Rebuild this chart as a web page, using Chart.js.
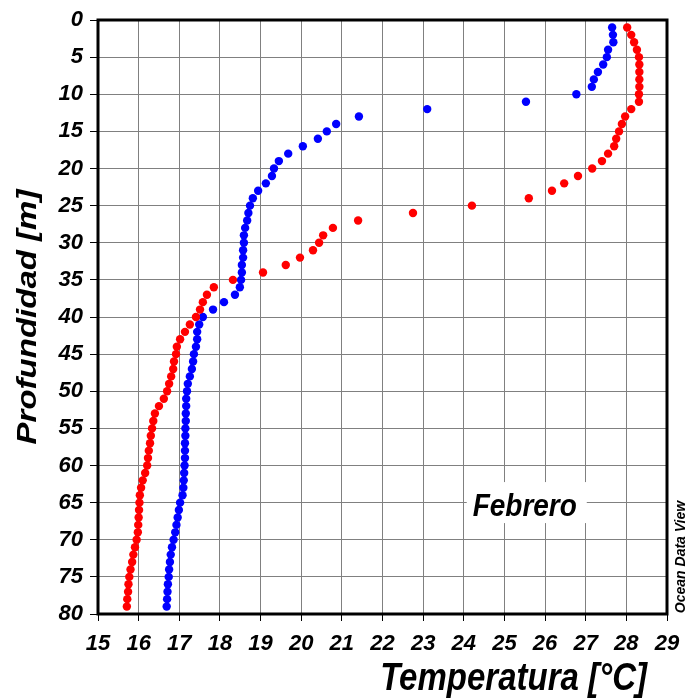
<!DOCTYPE html>
<html>
<head>
<meta charset="utf-8">
<script src="https://cdn.jsdelivr.net/npm/chart.js@4/dist/chart.umd.min.js"></script>
<style>
html,body{margin:0;padding:0;background:#fff;}
#wrap{width:685px;height:698px;}
</style>
</head>
<body>
<div id="wrap"><canvas id="c" width="685" height="698"></canvas></div>
<script>
// Depths [m]
const depths = [1,2,3,4,5,6,7,8,9,10,11,12,13,14,15,16,17,18,19,20,21,22,23,24,25,26,27,28,29,30,31,32,33,34,35,36,37,38,39,40,41,42,43,44,45,46,47,48,49,50,51,52,53,54,55,56,57,58,59,60,61,62,63,64,65,66,67,68,69,70,71,72,73,74,75,76,77,78,79];
// Blue profile temperatures [°C]
const tempBlue = [27.65,27.67,27.68,27.55,27.52,27.43,27.30,27.20,27.15,26.77,25.53,23.10,21.42,20.86,20.63,20.41,20.04,19.68,19.45,19.33,19.28,19.13,18.94,18.81,18.74,18.70,18.67,18.62,18.59,18.59,18.57,18.57,18.54,18.54,18.52,18.49,18.37,18.10,17.83,17.58,17.49,17.44,17.44,17.41,17.36,17.34,17.31,17.26,17.21,17.19,17.17,17.17,17.16,17.16,17.15,17.15,17.14,17.14,17.14,17.13,17.12,17.11,17.10,17.08,17.02,16.99,16.96,16.93,16.90,16.86,16.82,16.79,16.77,16.75,16.74,16.72,16.71,16.70,16.69];
// Red profile temperatures [°C]
const tempRed = [28.02,28.12,28.19,28.26,28.31,28.32,28.32,28.32,28.32,28.31,28.31,28.12,27.97,27.89,27.82,27.75,27.70,27.55,27.40,27.16,26.81,26.47,26.17,25.60,24.20,22.75,21.40,20.78,20.54,20.44,20.29,19.97,19.62,19.06,18.32,17.85,17.68,17.58,17.51,17.41,17.26,17.14,17.02,16.94,16.92,16.87,16.85,16.80,16.75,16.70,16.62,16.50,16.40,16.36,16.33,16.30,16.28,16.25,16.23,16.21,16.16,16.10,16.06,16.03,16.02,16.01,16.00,15.99,15.98,15.95,15.91,15.87,15.84,15.80,15.77,15.75,15.74,15.72,15.71];

const xTicks = [15,16,17,18,19,20,21,22,23,24,25,26,27,28,29];
const yTicks = [0,5,10,15,20,25,30,35,40,45,50,55,60,65,70,75,80];
const xTitle = 'Temperatura [°C]';
const yTitle = 'Profundidad [m]';
const monthLabel = 'Febrero';
const creditLabel = 'Ocean Data View';

const FONT = '"Liberation Sans", Arial, sans-serif';

const overlay = {
  id: 'overlay',
  afterDraw(chart) {
    const {ctx, chartArea: a} = chart;
    const xs = chart.scales.x, ys = chart.scales.y;
    ctx.save();
    // frame
    ctx.lineWidth = 3;
    ctx.strokeStyle = '#000';
    ctx.strokeRect(a.left, a.top, a.right - a.left, a.bottom - a.top);
    // month label box
    const cx = xs.getPixelForValue(25.5);
    const cy = ys.getPixelForValue(65.6);
    ctx.fillStyle = '#fff';
    ctx.fillRect(cx - 58, cy - 25, 120, 41);
    ctx.fillStyle = '#000';
    ctx.font = 'italic bold 28px ' + FONT;
    ctx.textAlign = 'center';
    ctx.textBaseline = 'middle';
    ctx.save();
    ctx.translate(cx, cy);
    ctx.scale(1, 1.1);
    ctx.fillText(monthLabel, 0, 0);
    ctx.restore();

    // x axis title
    ctx.save();
    ctx.font = 'italic bold 33px ' + FONT;
    ctx.textAlign = 'right';
    ctx.textBaseline = 'alphabetic';
    ctx.translate(a.right - 20, 690);
    ctx.scale(1, 1.15);
    ctx.fillText(xTitle, 0, 0);
    ctx.restore();

    // y axis title
    ctx.save();
    ctx.font = 'italic bold 33px ' + FONT;
    ctx.textAlign = 'center';
    ctx.textBaseline = 'alphabetic';
    ctx.translate(36, (a.top + a.bottom) / 2);
    ctx.rotate(-Math.PI / 2);
    ctx.scale(1, 0.85);
    ctx.fillText(yTitle, 0, 0);
    ctx.restore();

    // credit
    ctx.save();
    ctx.translate(a.right + 14, 557);
    ctx.rotate(-Math.PI / 2);
    ctx.font = 'italic bold 14px ' + FONT;
    ctx.textAlign = 'center';
    ctx.textBaseline = 'middle';
    ctx.fillText(creditLabel, 0, 0);
    ctx.restore();
    ctx.restore();
  }
};

new Chart(document.getElementById('c'), {
  type: 'scatter',
  data: {
    datasets: [
      {
        label: 'Rojo',
        data: depths.map((d, i) => ({x: tempRed[i], y: d})),
        backgroundColor: '#ff0000',
        borderWidth: 0,
        pointRadius: 4.2
      },
      {
        label: 'Azul',
        data: depths.map((d, i) => ({x: tempBlue[i], y: d})),
        backgroundColor: '#0000ff',
        borderWidth: 0,
        pointRadius: 4.2
      }
    ]
  },
  options: {
    responsive: false,
    animation: false,
    devicePixelRatio: 1,
    layout: {padding: {top: 20, right: 18, left: 0, bottom: 0}},
    plugins: {legend: {display: false}, tooltip: {enabled: false}},
    scales: {
      x: {
        type: 'linear',
        min: 15, max: 29,
        afterBuildTicks(s) { s.ticks = xTicks.map(v => ({value: v})); },
        afterFit(s) { s.height = 84; s.paddingLeft = 0; s.paddingRight = 0; },
        grid: {color: '#808080', lineWidth: 1, drawTicks: true, tickLength: 7, tickColor: '#000'},
        border: {display: false},
        ticks: {color: '#000', padding: 10, font: {family: FONT, size: 22, style: 'italic', weight: 'bold'}, maxRotation: 0},
        title: {display: false, text: xTitle}
      },
      y: {
        type: 'linear',
        reverse: true,
        min: 0, max: 80,
        afterBuildTicks(s) { s.ticks = yTicks.map(v => ({value: v})); },
        afterFit(s) { s.width = 98; s.paddingTop = 0; s.paddingBottom = 0; },
        grid: {color: '#808080', lineWidth: 1, drawTicks: true, tickLength: 8, tickColor: '#000'},
        border: {display: false},
        ticks: {color: '#000', padding: 7, font: {family: FONT, size: 22, style: 'italic', weight: 'bold'}},
        title: {display: false, text: yTitle}
      }
    }
  },
  plugins: [overlay]
});
</script>
</body>
</html>
